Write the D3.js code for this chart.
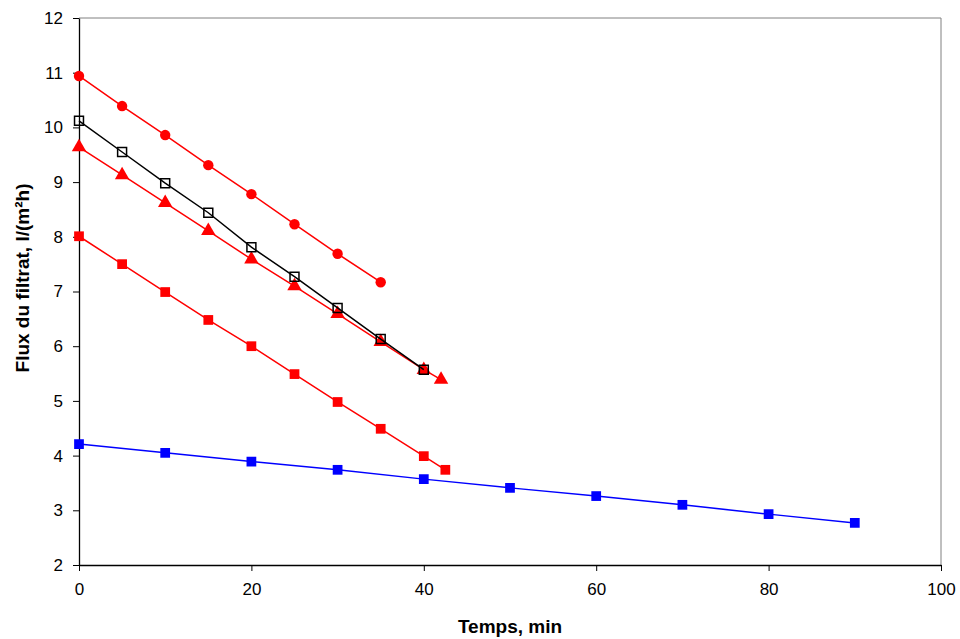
<!DOCTYPE html>
<html>
<head>
<meta charset="utf-8">
<script src="https://cdn.jsdelivr.net/npm/d3@7"></script>
<style>
  html, body { margin: 0; padding: 0; background: #fff; }
  svg { display: block; font-family: "Liberation Sans", Arial, sans-serif; }
</style>
</head>
<body>
<svg id="chart" width="960" height="639"></svg>
<script>
// Filtrate flux versus time for five runs
const timeCircle   = [0, 5, 10, 15, 20, 25, 30, 35];
const fluxCircle   = [10.94, 10.39, 9.86, 9.31, 8.78, 8.23, 7.69, 7.17];

const timeTriangle = [0, 5, 10, 15, 20, 25, 30, 35, 40, 42];
const fluxTriangle = [9.64, 9.13, 8.62, 8.11, 7.59, 7.10, 6.59, 6.08, 5.57, 5.39];

const timeRedSq    = [0, 5, 10, 15, 20, 25, 30, 35, 40, 42.5];
const fluxRedSq    = [8.01, 7.50, 6.99, 6.48, 6.00, 5.49, 4.98, 4.49, 3.99, 3.74];

const timeBlue     = [0, 10, 20, 30, 40, 50, 60, 70, 80, 90];
const fluxBlue     = [4.21, 4.05, 3.89, 3.74, 3.57, 3.41, 3.26, 3.10, 2.93, 2.77];

const timeOpen     = [0, 5, 10, 15, 20, 25, 30, 35, 40];
const fluxOpen     = [10.12, 9.55, 8.98, 8.44, 7.81, 7.27, 6.70, 6.13, 5.57];

const xTicks = [0, 20, 40, 60, 80, 100];
const yTicks = [2, 3, 4, 5, 6, 7, 8, 9, 10, 11, 12];

const xTitle = "Temps, min";
const yTitle = "Flux du filtrat, l/(m²h)";

const svg = d3.select("#chart");
const m = { left: 79, top: 18, right: 941, bottom: 565 };

const x = d3.scaleLinear().domain([0, 100]).range([m.left, m.right]);
const y = d3.scaleLinear().domain([2, 12]).range([m.bottom, m.top]);

// frame: grey top/right edges
svg.append("path")
  .attr("d", `M${m.left},${m.top}H${m.right}V${m.bottom}`)
  .attr("fill", "none").attr("stroke", "#808080").attr("stroke-width", 1);

// axes
const xAxis = svg.append("g")
  .attr("transform", `translate(0,${m.bottom})`)
  .call(d3.axisBottom(x).tickValues(xTicks).tickSize(6).tickPadding(12).tickSizeOuter(0));
const yAxis = svg.append("g")
  .attr("transform", `translate(${m.left},0)`)
  .call(d3.axisLeft(y).tickValues(yTicks).tickSize(6).tickPadding(10).tickSizeOuter(0));

[xAxis, yAxis].forEach(g => {
  g.select(".domain").attr("stroke", "#000").attr("stroke-width", 1.3);
  g.selectAll(".tick line").attr("stroke", "#000").attr("stroke-width", 1);
  g.selectAll(".tick text")
    .attr("fill", "#000")
    .style("font-size", "17px")
    .style("font-family", "'Liberation Sans', Arial, sans-serif");
});

// axis titles
svg.append("text")
  .attr("x", 510).attr("y", 633)
  .attr("text-anchor", "middle")
  .style("font-size", "19px").style("font-weight", "bold")
  .text(xTitle);
svg.append("text")
  .attr("transform", `translate(29,278) rotate(-90)`)
  .attr("text-anchor", "middle")
  .style("font-size", "19px").style("font-weight", "bold")
  .text(yTitle);

const line = d3.line().x(d => x(d[0])).y(d => y(d[1]));
const zip = (a, b) => a.map((v, i) => [v, b[i]]);

const series = [
  { t: timeBlue,     v: fluxBlue,     color: "#0000ff", shape: d3.symbolSquare,   size: 95,  fill: "#0000ff" },
  { t: timeRedSq,    v: fluxRedSq,    color: "#ff0000", shape: d3.symbolSquare,   size: 95,  fill: "#ff0000" },
  { t: timeCircle,   v: fluxCircle,   color: "#ff0000", shape: d3.symbolCircle,   size: 85,  fill: "#ff0000" },
  { t: timeTriangle, v: fluxTriangle, color: "#ff0000", shape: d3.symbolTriangle, size: 90,  fill: "#ff0000" },
  { t: timeOpen,     v: fluxOpen,     color: "#000000", shape: d3.symbolSquare,   size: 80,  fill: "none" }
];

series.forEach(s => {
  const pts = zip(s.t, s.v);
  svg.append("path")
    .datum(pts)
    .attr("d", line)
    .attr("fill", "none")
    .attr("stroke", s.color)
    .attr("stroke-width", 1.5);
  svg.append("g").selectAll("path")
    .data(pts)
    .join("path")
    .attr("transform", d => `translate(${x(d[0])},${y(d[1])})`)
    .attr("d", d3.symbol().type(s.shape).size(s.size))
    .attr("fill", s.fill)
    .attr("stroke", s.fill === "none" ? s.color : "none")
    .attr("stroke-width", 1.5);
});
</script>
</body>
</html>
